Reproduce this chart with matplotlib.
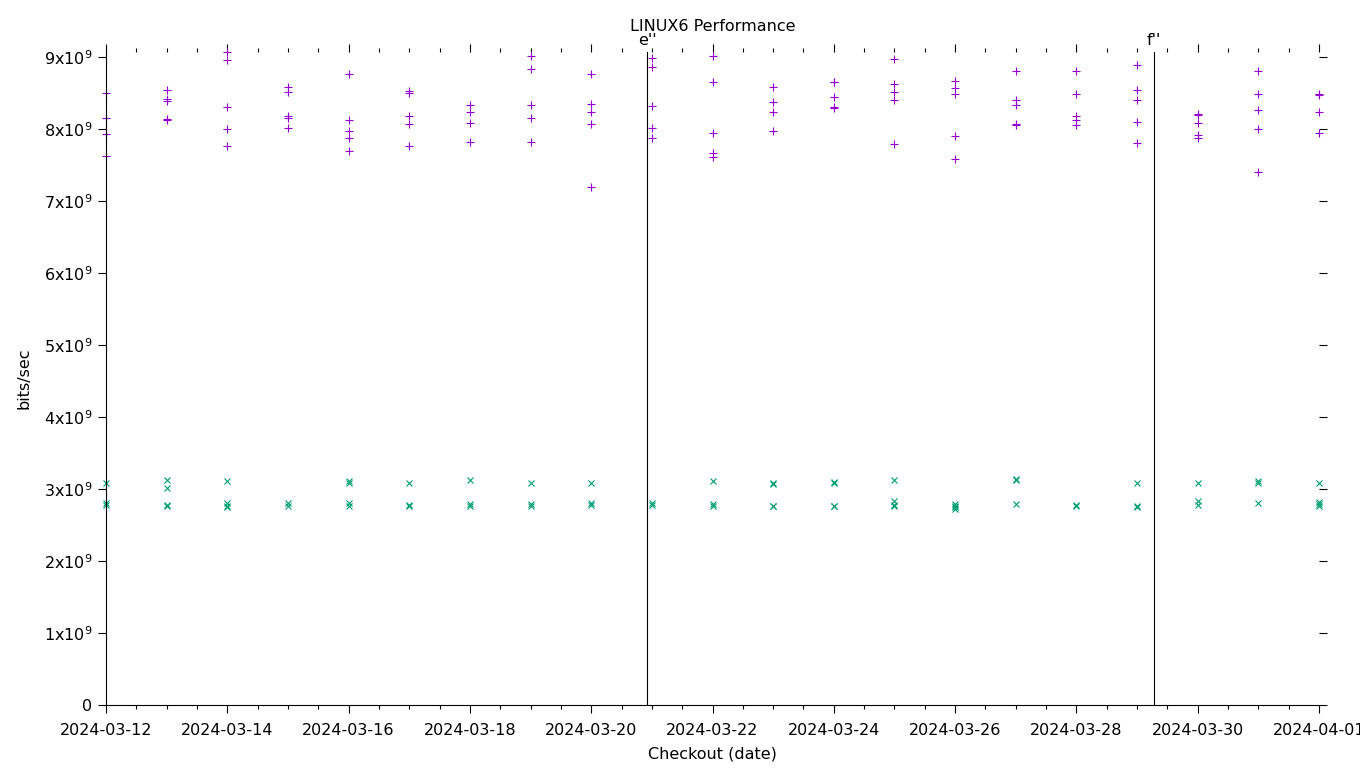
import matplotlib
matplotlib.use("Agg")
import matplotlib.pyplot as plt
import matplotlib.dates as mdates
import matplotlib.transforms as mtransforms
from matplotlib.ticker import FixedLocator, MultipleLocator, FuncFormatter
import pandas as pd

# checkout dates, one column of points per day
days = ['2024-03-12', '2024-03-13', '2024-03-14', '2024-03-15', '2024-03-16',
        '2024-03-17', '2024-03-18', '2024-03-19', '2024-03-20', '2024-03-21',
        '2024-03-22', '2024-03-23', '2024-03-24', '2024-03-25', '2024-03-26',
        '2024-03-27', '2024-03-28', '2024-03-29', '2024-03-30', '2024-03-31',
        '2024-04-01']

# upper series (+), in units of 1e9 bits/sec
rate_plus = [
    [8.50, 8.15, 7.93, 7.63],
    [8.54, 8.42, 8.39, 8.14, 8.13],
    [9.07, 8.96, 8.30, 8.00, 7.77],
    [8.58, 8.51, 8.18, 8.16, 8.01],
    [8.77, 8.12, 7.97, 7.88, 7.70],
    [8.53, 8.50, 8.18, 8.07, 7.77],
    [8.33, 8.23, 8.08, 7.82],
    [9.01, 8.84, 8.33, 8.16, 7.82],
    [8.77, 8.35, 8.24, 8.07, 7.20],
    [8.98, 8.86, 8.32, 8.02, 7.87],
    [9.02, 8.65, 7.94, 7.67, 7.61],
    [8.59, 8.37, 8.23, 7.97],
    [8.66, 8.65, 8.45, 8.30, 8.29],
    [8.97, 8.63, 8.51, 8.41, 7.79],
    [8.67, 8.57, 8.48, 7.91, 7.59],
    [8.81, 8.41, 8.34, 8.07, 8.05],
    [8.81, 8.48, 8.18, 8.13, 8.06],
    [8.89, 8.54, 8.41, 8.10, 7.80],
    [8.21, 8.19, 8.08, 7.92, 7.87],
    [8.80, 8.48, 8.26, 8.00, 7.40],
    [8.48, 8.47, 8.23, 7.95],
]

# lower series (x), in units of 1e9 bits/sec
rate_cross = [
    [3.09, 2.81, 2.78],
    [3.12, 3.01, 2.78, 2.76],
    [3.11, 2.80, 2.77, 2.75],
    [2.80, 2.77],
    [3.11, 3.08, 2.81, 2.76],
    [3.08, 2.78, 2.76],
    [3.12, 2.79, 2.77],
    [3.09, 2.79, 2.77],
    [3.09, 2.80, 2.78],
    [2.80, 2.78],
    [3.11, 2.79, 2.77],
    [3.08, 3.07, 2.77, 2.76],
    [3.10, 3.08, 2.77, 2.76],
    [3.12, 2.83, 2.78, 2.77],
    [2.79, 2.77, 2.75, 2.72],
    [3.14, 3.12, 2.79],
    [2.78, 2.76],
    [3.08, 2.77, 2.75],
    [3.09, 2.83, 2.78],
    [3.11, 3.09, 2.80],
    [3.09, 2.82, 2.79, 2.76],
]

# release markers
markers = ["e''", "f''"]
marker_times = ['2024-03-20 22:05', '2024-03-29 06:45']

purple = '#9400d3'
green = '#009e73'

fig = plt.figure(figsize=(13.6, 7.68), dpi=100)
ax = fig.add_axes([106/1360, 63/768, (1319-106)/1360, (705-52)/768])

for day, vals in zip(days, rate_plus):
    x = [pd.Timestamp(day)] * len(vals)
    ax.plot(x, [v * 1e9 for v in vals], linestyle='none', marker='+',
            color=purple, markersize=6, markeredgewidth=0.8, clip_on=False)
for day, vals in zip(days, rate_cross):
    x = [pd.Timestamp(day)] * len(vals)
    ax.plot(x, [v * 1e9 for v in vals], linestyle='none', marker='x',
            color=green, markersize=4.8, markeredgewidth=0.8, clip_on=False)

trans = mtransforms.blended_transform_factory(ax.transData, ax.transAxes)
for name, t in zip(markers, marker_times):
    ax.axvline(pd.Timestamp(t), color='black', linewidth=0.8, ymax=1.0)
    ax.text(pd.Timestamp(t), 1.006, name, transform=trans, ha='center',
            va='bottom', fontsize=11.5)

ax.set_xlim(pd.Timestamp(days[0]), pd.Timestamp(days[-1]))
ax.set_ylim(0, 9.07e9)

major = mdates.date2num(pd.date_range(days[0], days[-1], freq='2D'))
ax.xaxis.set_major_locator(FixedLocator(major))
ax.xaxis.set_minor_locator(MultipleLocator(0.5))
ax.xaxis.set_major_formatter(mdates.DateFormatter('%Y-%m-%d'))

ax.yaxis.set_major_locator(MultipleLocator(1e9))


def ylab(v, pos):
    n = int(round(v / 1e9))
    if n == 0:
        return '0'
    return r'%dx10$^{9}$' % n


ax.yaxis.set_major_formatter(FuncFormatter(ylab))

for s in ['top', 'right']:
    ax.spines[s].set_visible(False)
for s in ['left', 'bottom']:
    ax.spines[s].set_linewidth(0.8)

ax.tick_params(which='both', direction='out', top=True, right=True,
               width=0.8, labelsize=11.5)
ax.tick_params(which='major', length=6)
ax.tick_params(which='minor', length=3)
ax.tick_params(axis='x', pad=7)
ax.tick_params(axis='y', pad=4)
ax.yaxis.set_minor_locator(FixedLocator([]))

ax.set_title('LINUX6 Performance', fontsize=11.5, pad=15)
ax.set_xlabel('Checkout (date)', fontsize=11.5, labelpad=6)
ax.set_ylabel('bits/sec', fontsize=11.5, labelpad=9)

fig.savefig('out.png', dpi=100)
